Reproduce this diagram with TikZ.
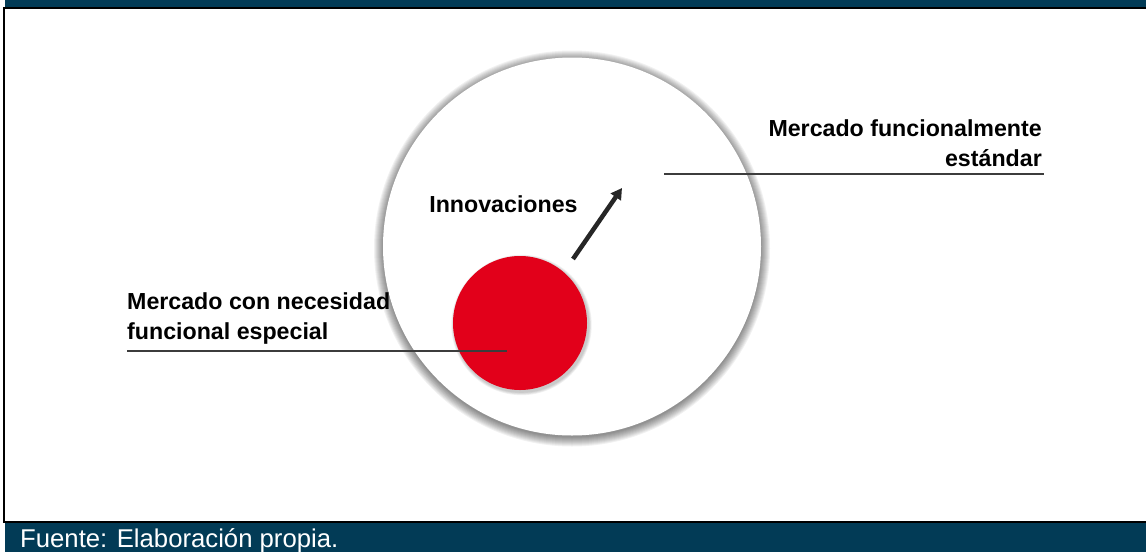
\documentclass[tikz,border=0pt]{standalone}
\usepackage{fontspec}
\setmainfont{Liberation Sans}
\usetikzlibrary{arrows.meta}
\definecolor{barra}{HTML}{023B56}
\definecolor{rojo}{HTML}{E2001A}
\definecolor{linea}{HTML}{3C3C3C}

\begin{document}
\begin{tikzpicture}[x=1pt, y=-1pt,
  etiqueta/.style = {inner sep=0, font=\bfseries\fontsize{23.2}{30}\selectfont},
  guia/.style = {draw=linea, line width=1.4pt},
  sombra/.style = {fill=black, opacity=0.055}]
  \useasboundingbox (0,0) rectangle (1146,552);
  % marco
  \fill[barra] (5,0) rectangle (1146,7);
  \fill[black] (5,7) rectangle (1146,9);
  \fill[black] (3,7) rectangle (5,523);
  \fill[black] (5,520.5) rectangle (1146,523);
  \fill[barra] (5,523) rectangle (1146,552);
  \node[anchor=base west, inner sep=0, text=white, font=\fontsize{25.7}{30}\selectfont] (fuente) at (20,547) {Fuente: Elaboración propia.};
  % circulo grande
  \foreach \r in {1,...,10}
    \fill[sombra] (572,248.5) circle [radius=188+\r];
  \node[circle, fill=white, minimum size=378pt, inner sep=0] (mercado) at (572,246.5) {};
  % circulo rojo
  \foreach \r in {1,...,4}
    \fill[sombra] (521.5,325) circle [radius=67+0.8*\r];
  \node[circle, fill=rojo, minimum size=134pt, inner sep=0] (especial) at (520,323) {};
  % flecha
  \coordinate (flechaIni) at (573,259);
  \coordinate (flechaFin) at (622,188);
  \draw[line width=4.5pt, black!85, -{Triangle[length=11pt,width=12pt]}] (flechaIni) -- (flechaFin);
  \node[etiqueta, anchor=base] (innov) at (503.5,212) {Innovaciones};
  % etiquetas
  \node[etiqueta, anchor=north east, align=right] (estandar) at (1042,119) {Mercado funcionalmente\\estándar};
  \coordinate (estA) at (664,174);
  \coordinate (estB) at (1044,174);
  \draw[guia] (estA) -- (estB);
  \node[etiqueta, anchor=north west, align=left] (necesidad) at (127,292) {Mercado con necesidad\\funcional especial};
  \coordinate (necA) at (127,351);
  \coordinate (necB) at (507,351);
  \draw[guia] (necA) -- (necB);
\end{tikzpicture}
\end{document}
